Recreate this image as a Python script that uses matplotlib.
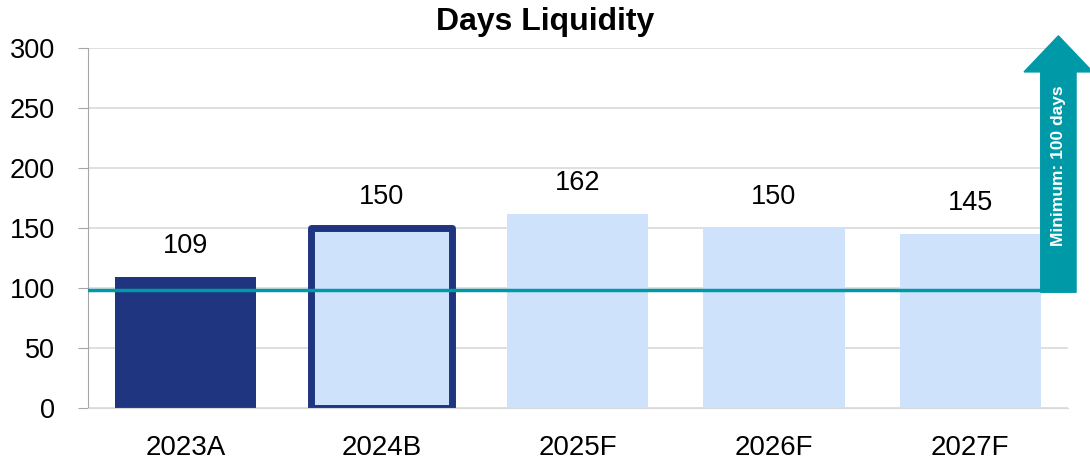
import matplotlib.pyplot as plt
from matplotlib.patches import Polygon

plt.rcParams['font.family'] = ['Liberation Sans', 'DejaVu Sans']

# data
years = ['2023A', '2024B', '2025F', '2026F', '2027F']
days = [109, 150, 162, 150, 145]
minimum = 98

dark_blue = '#203580'
light_blue = '#CFE2FB'
teal = '#0099A8'

fig = plt.figure(figsize=(10.9, 4.74), dpi=100)
ax = fig.add_axes([0.0803, 0.139, 0.8997, 0.76])

x = list(range(len(years)))
colors = [dark_blue] + [light_blue] * (len(years) - 1)
bars = ax.bar(x, days, width=0.72, color=colors, zorder=2)
# 2024B is outlined
bars[1].set_edgecolor(dark_blue)
bars[1].set_linewidth(5)
bars[1].set_joinstyle('round')

for xi, v in zip(x, days):
    ax.text(xi, v + 15, str(v), ha='center', va='bottom', fontsize=19.5)

ax.axhline(minimum, xmin=0, xmax=1, color=teal, lw=2.5, zorder=3)

# arrow on the right for the minimum
sx0, sx1 = 4.36, 4.54
hx0, hx1 = 4.275, 4.625
pts = [(sx0, minimum - 1.5), (sx1, minimum - 1.5), (sx1, 280), (hx1, 280),
       ((hx0 + hx1) / 2, 310), (hx0, 280), (sx0, 280)]
ax.add_patch(Polygon(pts, closed=True, color=teal, clip_on=False, zorder=4))
ax.text((sx0 + sx1) / 2, 202, 'Minimum: 100 days', rotation=90, color='white',
        fontsize=12.5, fontweight='bold', ha='center', va='center', zorder=5)

ax.set_xlim(-0.5, 4.5)
ax.set_ylim(0, 300)
ax.set_yticks(range(0, 301, 50))
ax.set_xticks(x)
ax.set_xticklabels(years)
ax.tick_params(axis='y', labelsize=19.5, length=7.5, color='#A6A6A6', pad=16)
ax.tick_params(axis='x', labelsize=20, length=0, pad=19)
ax.grid(axis='y', color='#D9D9D9', lw=1.2, zorder=0)
ax.set_axisbelow(True)
for s in ['top', 'right']:
    ax.spines[s].set_visible(False)
ax.spines['left'].set_color('#A6A6A6')
ax.spines['bottom'].set_color('#D9D9D9')

fig.text(0.5, 0.937, 'Days Liquidity', ha='center', va='baseline',
         fontsize=23, fontweight='bold')

fig.savefig('out.png', dpi=100)
